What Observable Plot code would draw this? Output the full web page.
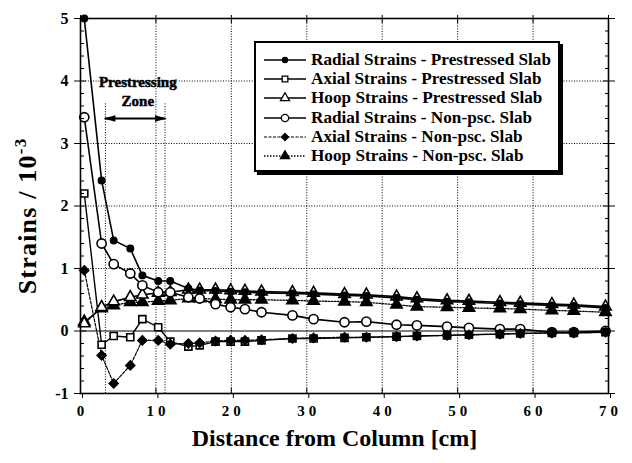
<!DOCTYPE html>
<html><head><meta charset="utf-8">
<script src="https://cdn.jsdelivr.net/npm/d3@7"></script>
<script src="https://cdn.jsdelivr.net/npm/@observablehq/plot@0.6"></script>
<style>
body{margin:0;background:#fff;}
#wrap{position:relative;width:632px;height:463px;}
.legend{position:absolute;left:254px;top:41px;width:306px;height:131px;border:2px solid #000;background:#fff;box-shadow:3px 3px 0 #000;font-family:"Liberation Serif",serif;font-weight:bold;font-size:17.2px;padding-top:7px;box-sizing:border-box;}
.row{display:flex;align-items:center;height:19.3px;white-space:nowrap;}
.row svg{margin-left:6px;margin-right:3px;}
</style></head><body><div id="wrap"></div>
<script>
// ---- data ----
const distance = [0.5, 2.8, 4.4, 6.6, 8.2, 10.3, 11.9, 14.3, 15.8, 17.9, 19.9, 21.8, 24.0, 28.1, 30.9, 35.0, 37.9, 41.9, 44.6, 48.6, 51.5, 55.6, 58.3, 62.5, 65.4, 69.6];
const radialPre = [5.0, 2.41, 1.45, 1.32, 0.89, 0.80, 0.80, 0.68, 0.65, 0.64, 0.63, 0.62, 0.61, 0.60, 0.59, 0.57, 0.56, 0.53, 0.50, 0.47, 0.46, 0.44, 0.43, 0.41, 0.40, 0.37];
const axialPre = [2.20, -0.22, -0.08, -0.10, 0.19, 0.06, -0.17, -0.25, -0.23, -0.17, -0.17, -0.17, -0.15, -0.12, -0.12, -0.11, -0.10, -0.09, -0.08, -0.07, -0.06, -0.05, -0.04, -0.03, -0.03, -0.02];
const hoopPre = [0.12, 0.38, 0.47, 0.54, 0.58, 0.61, 0.62, 0.66, 0.66, 0.66, 0.65, 0.64, 0.63, 0.62, 0.61, 0.59, 0.58, 0.55, 0.52, 0.49, 0.48, 0.46, 0.45, 0.43, 0.42, 0.39];
const radialNon = [3.42, 1.40, 1.07, 0.92, 0.73, 0.62, 0.62, 0.54, 0.52, 0.43, 0.38, 0.35, 0.30, 0.25, 0.19, 0.14, 0.15, 0.10, 0.09, 0.07, 0.05, 0.03, 0.03, -0.02, -0.02, 0.00];
const axialNon = [0.97, -0.39, -0.84, -0.55, -0.15, -0.15, -0.21, -0.20, -0.19, -0.16, -0.15, -0.15, -0.14, -0.12, -0.11, -0.10, -0.10, -0.09, -0.08, -0.07, -0.06, -0.05, -0.04, -0.03, -0.03, -0.02];
const hoopNon = [0.15, 0.36, 0.41, 0.46, 0.46, 0.48, 0.49, 0.52, 0.52, 0.51, 0.50, 0.50, 0.50, 0.49, 0.48, 0.47, 0.46, 0.42, 0.39, 0.38, 0.37, 0.36, 0.35, 0.33, 0.32, 0.30];
const seriesNames = ["Radial Strains - Prestressed Slab", "Axial Strains - Prestressed Slab", "Hoop Strains - Prestressed Slab", "Radial Strains - Non-psc. Slab", "Axial Strains - Non-psc. Slab", "Hoop Strains - Non-psc. Slab"];
const seriesValues = [radialPre, axialPre, hoopPre, radialNon, axialNon, hoopNon];
const xTicks = [0, 10, 20, 30, 40, 50, 60, 70];
const yTicks = [-1, 0, 1, 2, 3, 4, 5];
const zoneBounds = [3.3, 11.2];
const zoneTop = 3.65;
const zoneArrowY = 3.4;
const zoneLabels = [{text: "Prestressing", y: 3.98}, {text: "Zone", y: 3.67}];
const zoneLabelX = 7.6;
const xLabel = "Distance from Column [cm]";
const yLabel = "Strains / 10";
const yLabelExp = "-3";

// ---- styles ----
const styles = [
  {symbol: "circle", fill: "#000", r: 3.2, dash: null, sw: 1.6},
  {symbol: "square", fill: "#fff", r: 4, dash: null, sw: 1.4},
  {symbol: "triangle", fill: "#fff", r: 4.2, dash: null, sw: 1.6},
  {symbol: "circle", fill: "#fff", r: 4.6, dash: null, sw: 1.6},
  {symbol: "diamond2", fill: "#000", r: 4, dash: "3,1.5", sw: 1.2},
  {symbol: "triangle", fill: "#000", r: 4.2, dash: "1.5,1.5", sw: 1.3}
];

const rows = [];
seriesNames.forEach((name, i) => seriesValues[i].forEach((v, j) => rows.push({series: name, idx: i, x: distance[j], y: v})));

const leftTri = {draw(ctx, size){const r = Math.sqrt(size/Math.PI)*1.2; ctx.moveTo(-r,0); ctx.lineTo(r,-r*0.55); ctx.lineTo(r,r*0.55); ctx.closePath();}};
const rightTri = {draw(ctx, size){const r = Math.sqrt(size/Math.PI)*1.2; ctx.moveTo(r,0); ctx.lineTo(-r,-r*0.55); ctx.lineTo(-r,r*0.55); ctx.closePath();}};

const yMinor = d3.range(-1, 5.001, 0.2).filter(v => Math.abs(v - Math.round(v)) > 1e-6);
const blank = () => "";

const marks = [
  Plot.gridX(xTicks.filter(t => t > 0 && t < 70), {stroke: "#000", strokeOpacity: 1, strokeWidth: 1, strokeDasharray: "1,1.6"}),
  Plot.gridY(yTicks.filter(t => t > 0 && t < 5), {stroke: "#000", strokeOpacity: 1, strokeWidth: 1, strokeDasharray: "1,1.6"}),
  Plot.ruleY([0], {stroke: "#000", strokeWidth: 1.2}),
  Plot.ruleX(zoneBounds, {y1: -1, y2: zoneTop, stroke: "#000", strokeWidth: 1, strokeDasharray: "1,1.6"}),
  Plot.ruleY([zoneArrowY], {x1: zoneBounds[0], x2: zoneBounds[1], stroke: "#000", strokeWidth: 2}),
  Plot.dot([zoneBounds[0]], {x: d => d, y: zoneArrowY, symbol: leftTri, r: 5, fill: "#000", dx: 4}),
  Plot.dot([zoneBounds[1]], {x: d => d, y: zoneArrowY, symbol: rightTri, r: 5, fill: "#000", dx: -4}),
  Plot.text(zoneLabels, {x: zoneLabelX, y: "y", text: "text", fontSize: 15, fontWeight: "bold", stroke: "#000", strokeWidth: 0.5, fill: "#000"}),
];
styles.forEach((s, i) => {
  const d = rows.filter(r => r.idx === i);
  marks.push(Plot.line(d, {x: "x", y: "y", stroke: "#000", strokeWidth: s.sw, strokeDasharray: s.dash}));
});
[5, 2, 0, 3, 1, 4].forEach(i => {
  const s = styles[i];
  const d = rows.filter(r => r.idx === i);
  marks.push(Plot.dot(d, {x: "x", y: "y", symbol: s.symbol, r: s.r, fill: s.fill, stroke: "#000", strokeWidth: 1.6}));
});
marks.push(
  Plot.frame({stroke: "#000", strokeWidth: 1.6}),
  Plot.axisX({ticks: xTicks, tickSize: 5, tickPadding: 7, label: null, fontSize: 15, fontWeight: "bold", dx: 2}),
  Plot.axisX({ticks: xTicks, tickSize: 5, dy: -5, tickFormat: blank, label: null}),
  Plot.axisX({anchor: "top", ticks: xTicks, tickSize: 4, tickFormat: blank, label: null}),
  Plot.axisX({anchor: "top", ticks: xTicks, tickSize: 4, dy: 4, tickFormat: blank, label: null}),
  Plot.axisY({ticks: yTicks, tickSize: 6, tickPadding: 6, label: null, fontSize: 16, fontWeight: "bold", tickFormat: d => String(d)}),
  Plot.axisY({ticks: yTicks, tickSize: 6, dx: 6, tickFormat: blank, label: null}),
  Plot.axisY({ticks: yMinor, tickSize: 4, dx: 4, tickFormat: blank, label: null}),
  Plot.axisY({anchor: "right", ticks: yTicks, tickSize: 6, tickFormat: blank, label: null}),
  Plot.axisY({anchor: "right", ticks: yTicks, tickSize: 6, dx: -6, tickFormat: blank, label: null}),
  Plot.axisY({anchor: "right", ticks: yMinor, tickSize: 4, dx: -4, tickFormat: blank, label: null}),
  Plot.text([xLabel], {frameAnchor: "bottom", text: d => d, dy: 52, dx: -10, fontSize: 24, fontWeight: "bold"})
);

const chart = Plot.plot({
  width: 632, height: 463,
  marginLeft: 80, marginRight: 24, marginTop: 18, marginBottom: 70,
  x: {domain: [0, 70]},
  y: {domain: [-1, 5]},
  style: {fontFamily: "Liberation Serif", fontWeight: "bold", fontSize: "15px", color: "#000", background: "#fff"},
  marks
});
const wrap = document.getElementById("wrap");
wrap.appendChild(chart);

// widen x tick label spacing like the reference
d3.select(chart).selectAll("g[aria-label='x-axis tick label'] text").style("letter-spacing", "4px");

// y-axis title with superscript
const svg = d3.select(chart);
const yt = svg.append("text")
  .attr("transform", "translate(36,216) rotate(-90)")
  .attr("text-anchor", "middle")
  .attr("font-family", "Liberation Serif")
  .attr("font-weight", "bold")
  .attr("font-size", 26)
  .attr("letter-spacing", "1.2px")
  .attr("fill", "#000");
yt.append("tspan").text(yLabel);
yt.append("tspan").attr("dy", -10).attr("font-size", 17).text(yLabelExp);

// legend overlay
const leg = document.createElement("div");
leg.className = "legend";
seriesNames.forEach((name, i) => {
  const s = styles[i];
  const row = document.createElement("div");
  row.className = "row";
  const ls = d3.create("svg").attr("width", 46).attr("height", 16);
  ls.append("line").attr("x1", 2).attr("x2", 44).attr("y1", 8).attr("y2", 8).attr("stroke", "#000").attr("stroke-width", s.sw).attr("stroke-dasharray", s.dash);
  const symMap = {circle: d3.symbolCircle, square: d3.symbolSquare, triangle: d3.symbolTriangle, diamond2: d3.symbolDiamond2};
  ls.append("path").attr("transform", "translate(23,8)").attr("d", d3.symbol(symMap[s.symbol], Math.PI * (s.r*0.8) * (s.r*0.8))()).attr("fill", s.fill).attr("stroke", "#000").attr("stroke-width", 1.3);
  row.appendChild(ls.node());
  const t = document.createElement("span");
  t.textContent = name;
  row.appendChild(t);
  leg.appendChild(row);
});
wrap.appendChild(leg);
</script>
</body></html>
